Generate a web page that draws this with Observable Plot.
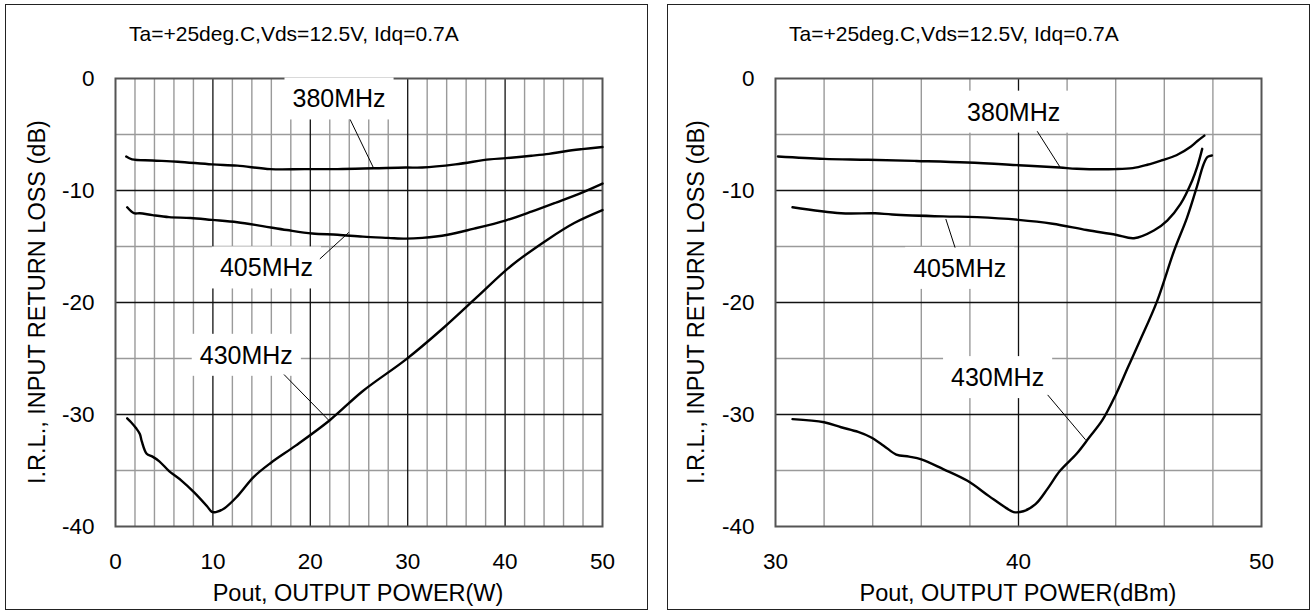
<!DOCTYPE html>
<html>
<head>
<meta charset="utf-8">
<script src="https://cdn.jsdelivr.net/npm/d3@7"></script>
<script src="https://cdn.jsdelivr.net/npm/@observablehq/plot@0.6"></script>
<style>
  html, body { margin: 0; padding: 0; background: #fff; }
  #root { position: relative; width: 1316px; height: 612px; overflow: hidden; font-family: "Liberation Sans", Arial, sans-serif; color: #000; }
  .frame { position: absolute; border: 1.5px solid #222; box-sizing: border-box; }
  .plotwrap { position: absolute; top: 0; }
  .title { position: absolute; font-size: 21px; line-height: 1; white-space: nowrap; }
  .xlabel { position: absolute; font-size: 23.5px; line-height: 1; white-space: nowrap; transform: translateX(-50%); }
  .ylabel { position: absolute; font-size: 23.5px; line-height: 1; white-space: nowrap; transform: translate(-50%, -50%) rotate(-90deg); }
</style>
</head>
<body>
<div id="root"></div>
<script>
// ---------------- DATA ----------------
const titleText = "Ta=+25deg.C,Vds=12.5V, Idq=0.7A";
const yLabelText = "I.R.L., INPUT RETURN LOSS (dB)";
const xLabelLeft = "Pout, OUTPUT POWER(W)";
const xLabelRight = "Pout, OUTPUT POWER(dBm)";

const yTicks = [0, -10, -20, -30, -40];
const yMajorGrid = [-10, -20, -30];
const yMinorGrid = [-5, -15, -25, -35];

const leftXTicks = [0, 10, 20, 30, 40, 50];
const leftXMajorGrid = [10, 20, 30, 40];
const leftXMinorGrid = [2, 4, 6, 8, 12, 14, 16, 18, 22, 24, 26, 28, 32, 34, 36, 38, 42, 44, 46, 48];

const rightXTicks = [30, 40, 50];
const rightXMajorGrid = [40];
const rightXMinorGrid = [32, 34, 36, 38, 42, 44, 46, 48];

const seriesNames = ["380MHz", "405MHz", "430MHz"];

// Left panel: Pout (W)
const L380x = [1.1, 1.7, 3.8, 6.4, 9.9, 12.5, 15.9, 19.4, 22.8, 26.5, 29.8, 31.5, 34.9, 38.4, 40.1, 42.7, 44.5, 46.2, 47.9, 50];
const L380y = [-6.97, -7.22, -7.32, -7.43, -7.67, -7.78, -8.09, -8.09, -8.09, -8.02, -7.95, -7.95, -7.67, -7.22, -7.11, -6.9, -6.73, -6.49, -6.31, -6.12];
const L405x = [1.2, 1.9, 2.5, 3.8, 5.5, 7.7, 9.9, 12.5, 15.1, 17.6, 20.2, 22.8, 25.4, 28.0, 29.8, 31.5, 34.1, 36.7, 40.1, 42.7, 45.3, 47.9, 50];
const L405y = [-11.5, -12.03, -12.03, -12.2, -12.38, -12.45, -12.62, -12.83, -13.18, -13.53, -13.84, -13.95, -14.12, -14.23, -14.3, -14.23, -13.95, -13.43, -12.66, -11.89, -11.05, -10.18, -9.38];
const L430x = [1.2, 1.6, 2.1, 2.5, 2.7, 3.2, 3.8, 4.5, 5.5, 6.8, 8.1, 9.4, 9.9, 10.3, 11.2, 12.5, 14.2, 15.9, 18.5, 22.0, 25.4, 29.8, 33.6, 37.1, 40.6, 44.5, 47.1, 50];
const L430y = [-30.34, -30.69, -31.21, -31.74, -32.4, -33.5, -33.76, -34.18, -35.05, -35.92, -36.97, -38.19, -38.7, -38.71, -38.36, -37.31, -35.57, -34.35, -32.78, -30.51, -27.9, -25.1, -22.32, -19.53, -16.74, -14.3, -12.9, -11.75];

// Right panel: Pout (dBm)
const R380x = [30.1, 32.0, 33.8, 35.8, 37.9, 40.0, 41.7, 42.4, 44.0, 44.7, 45.3, 45.9, 46.5, 47.1, 47.35, 47.65];
const R380y = [-6.97, -7.18, -7.25, -7.36, -7.5, -7.74, -7.95, -8.06, -8.09, -8.0, -7.7, -7.3, -6.85, -6.07, -5.6, -5.1];
const R405x = [30.7, 32.7, 34.1, 34.8, 36.9, 38.3, 40.0, 41.4, 42.8, 44.0, 44.75, 45.57, 46.12, 46.67, 47.15, 47.35, 47.56];
const R405y = [-11.5, -12.03, -12.03, -12.14, -12.31, -12.38, -12.62, -12.97, -13.53, -13.95, -14.26, -13.57, -12.68, -11.19, -9.1, -7.92, -6.28];
const R430x = [30.7, 32.0, 32.7, 33.4, 33.9, 34.45, 34.97, 35.5, 36.0, 36.9, 37.9, 38.8, 39.5, 39.8, 40.2, 40.7, 41.2, 41.7, 42.4, 42.9, 43.45, 44.0, 44.5, 45.0, 45.7, 46.4, 46.94, 47.35, 47.61, 47.78, 47.96];
const R430y = [-30.41, -30.69, -31.14, -31.56, -32.01, -32.78, -33.58, -33.76, -34.0, -34.87, -35.92, -37.31, -38.36, -38.71, -38.64, -38.01, -36.62, -35.05, -33.48, -32.08, -30.51, -28.25, -25.81, -23.4, -19.9, -15.4, -12.4, -9.6, -7.7, -7.0, -6.87];

// Series labels and leader lines
const leftLabelX = [22.95, 15.5, 13.43];
const leftLabelY = [-1.87, -16.96, -24.76];
const leftLeadX1 = [24.09, 20.98, 17.3];
const leftLeadY1 = [-3.66, -16.11, -26.43];
const leftLeadX2 = [26.47, 23.96, 21.89];
const leftLeadY2 = [-7.95, -13.74, -30.51];

const rightLabelX = [39.8, 37.58, 39.14];
const rightLabelY = [-3.05, -17.0, -26.75];
const rightLeadX1 = [40.77, 37.39, 41.2];
const rightLeadY1 = [-4.71, -15.1, -28.25];
const rightLeadX2 = [41.72, 37.01, 42.76];
const rightLeadY2 = [-7.95, -12.55, -32.26];

// ---------------- BUILD ----------------
function toPoints(xs, ys, name) { return xs.map((x, i) => ({x, y: ys[i], name})); }

function makePanel(cfg) {
  const curves = [
    ...toPoints(cfg.c380x, cfg.c380y, seriesNames[0]),
    ...toPoints(cfg.c405x, cfg.c405y, seriesNames[1]),
    ...toPoints(cfg.c430x, cfg.c430y, seriesNames[2])
  ];
  const labels = seriesNames.map((n, i) => ({name: n, x: cfg.labX[i], y: cfg.labY[i]}));
  const leaders = seriesNames.map((n, i) => ({x1: cfg.lx1[i], y1: cfg.ly1[i], x2: cfg.lx2[i], y2: cfg.ly2[i]}));
  return Plot.plot({
    width: cfg.width,
    height: 612,
    marginLeft: cfg.marginLeft,
    marginRight: cfg.marginRight,
    marginTop: 78,
    marginBottom: 86,
    style: {fontFamily: '"Liberation Sans", Arial, sans-serif', fontSize: "22.5px", color: "#000", background: "transparent", overflow: "visible"},
    x: {domain: cfg.xDomain, ticks: cfg.xTicks, tickSize: 0, tickPadding: 27, tickFormat: d => String(d), label: null},
    y: {domain: [-40, 0], ticks: yTicks, tickSize: 0, tickPadding: 21, tickFormat: d => String(d), label: null},
    marks: [
      Plot.ruleX(cfg.minorX, {stroke: "#9a9a9a", strokeWidth: 1.4}),
      Plot.ruleY(yMinorGrid, {stroke: "#9a9a9a", strokeWidth: 1.4}),
      Plot.ruleX(cfg.majorX, {stroke: "#111", strokeWidth: 1.3}),
      Plot.ruleY(yMajorGrid, {stroke: "#111", strokeWidth: 1.3}),
      Plot.frame({stroke: "#555", strokeWidth: 2}),
      Plot.text(labels, {x: "x", y: "y", text: "name", fontSize: 25, fill: "#000"}),
      Plot.link(leaders, {x1: "x1", y1: "y1", x2: "x2", y2: "y2", stroke: "#000", strokeWidth: 1}),
      Plot.line(curves, {x: "x", y: "y", z: "name", stroke: "#000", strokeWidth: 2.4, curve: "catmull-rom"})
    ]
  });
}

function addLabelBoxes(svg) {
  svg.querySelectorAll('g[aria-label="text"]').forEach(g => {
    g.querySelectorAll("text").forEach(t => {
      const b = t.getBBox();
      const r = document.createElementNS("http://www.w3.org/2000/svg", "rect");
      r.setAttribute("x", b.x - 8);
      r.setAttribute("y", b.y - 7);
      r.setAttribute("width", b.width + 16);
      r.setAttribute("height", b.height + 14);
      r.setAttribute("fill", "#fff");
      const tr = t.getAttribute("transform");
      if (tr) r.setAttribute("transform", tr);
      g.insertBefore(r, t);
    });
  });
}

const root = document.getElementById("root");

function addDiv(cls, text, styles) {
  const d = document.createElement("div");
  d.className = cls;
  if (text) d.textContent = text;
  Object.assign(d.style, styles);
  root.appendChild(d);
  return d;
}

// panel frames
addDiv("frame", "", {left: "5px", top: "4px", width: "643px", height: "606px"});
addDiv("frame", "", {left: "667px", top: "4px", width: "643px", height: "606px"});

const leftPlot = makePanel({
  width: 658, marginLeft: 115, marginRight: 56,
  xDomain: [0, 50], xTicks: leftXTicks, minorX: leftXMinorGrid, majorX: leftXMajorGrid,
  c380x: L380x, c380y: L380y, c405x: L405x, c405y: L405y, c430x: L430x, c430y: L430y,
  labX: leftLabelX, labY: leftLabelY, lx1: leftLeadX1, ly1: leftLeadY1, lx2: leftLeadX2, ly2: leftLeadY2
});
const rightPlot = makePanel({
  width: 658, marginLeft: 117, marginRight: 55,
  xDomain: [30, 50], xTicks: rightXTicks, minorX: rightXMinorGrid, majorX: rightXMajorGrid,
  c380x: R380x, c380y: R380y, c405x: R405x, c405y: R405y, c430x: R430x, c430y: R430y,
  labX: rightLabelX, labY: rightLabelY, lx1: rightLeadX1, ly1: rightLeadY1, lx2: rightLeadX2, ly2: rightLeadY2
});

const w1 = addDiv("plotwrap", "", {left: "0px"});
w1.appendChild(leftPlot);
const w2 = addDiv("plotwrap", "", {left: "658px"});
w2.appendChild(rightPlot);
addLabelBoxes(leftPlot);
addLabelBoxes(rightPlot);

// titles and axis labels
addDiv("title", titleText, {left: "129px", top: "23px"});
addDiv("title", titleText, {left: "789px", top: "23px"});
addDiv("xlabel", xLabelLeft, {left: "358px", top: "582px"});
addDiv("xlabel", xLabelRight, {left: "1018px", top: "582px"});
addDiv("ylabel", yLabelText, {left: "38px", top: "302px"});
addDiv("ylabel", yLabelText, {left: "697px", top: "302px"});
</script>
</body>
</html>
